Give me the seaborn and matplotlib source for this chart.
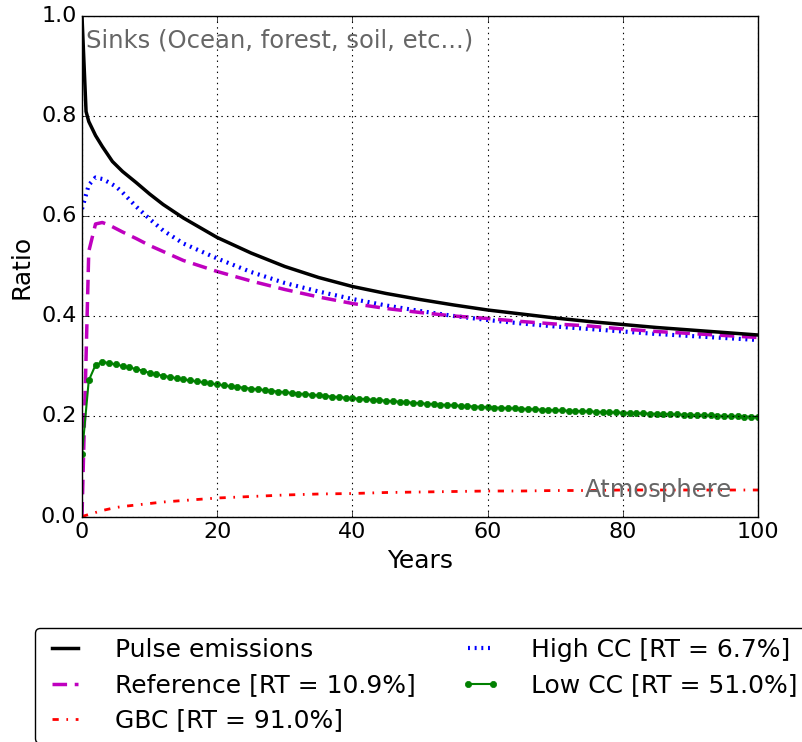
import matplotlib
matplotlib.use("Agg")
import matplotlib.pyplot as plt
import seaborn as sns

# pulse response (black)
pulse_years = [0, 0.6, 1, 2, 3, 4.5, 6, 8, 10, 12, 15, 20, 25, 30, 35, 40, 45, 50,
               55, 60, 65, 70, 75, 80, 85, 90, 95, 100]
pulse = [1.0, 0.81, 0.79, 0.762, 0.74, 0.71, 0.69, 0.668, 0.645, 0.624, 0.597,
         0.558, 0.527, 0.500, 0.478, 0.460, 0.446, 0.434, 0.423, 0.413, 0.405,
         0.397, 0.390, 0.384, 0.378, 0.373, 0.368, 0.363]

# scenarios
years = [0, 1, 2, 3, 4, 5, 6, 8, 10, 12, 15, 20, 25, 30, 35, 40, 45, 50, 55, 60,
         65, 70, 75, 80, 85, 90, 95, 100]
reference = [0.0, 0.53, 0.585, 0.588, 0.583, 0.576, 0.569, 0.556, 0.542, 0.53,
             0.512, 0.490, 0.471, 0.454, 0.439, 0.426, 0.416, 0.408, 0.401,
             0.396, 0.390, 0.385, 0.381, 0.375, 0.370, 0.366, 0.362, 0.358]
high_cc = [0.615, 0.663, 0.678, 0.675, 0.668, 0.66, 0.648, 0.62, 0.595, 0.572,
           0.546, 0.516, 0.489, 0.467, 0.450, 0.435, 0.422, 0.411, 0.401, 0.393,
           0.386, 0.380, 0.375, 0.370, 0.365, 0.361, 0.357, 0.353]
gbc = [0.0, 0.004, 0.008, 0.012, 0.015, 0.018, 0.020, 0.023, 0.026, 0.029, 0.032,
       0.037, 0.040, 0.043, 0.045, 0.046, 0.048, 0.049, 0.050, 0.051, 0.051,
       0.052, 0.052, 0.053, 0.053, 0.053, 0.053, 0.053]

# low CC, one value per year (0..100)
low_years = list(range(101))
low_cc = [
    0.125, 0.272, 0.303, 0.309, 0.307, 0.304, 0.301, 0.298, 0.295, 0.2915,
    0.287, 0.284, 0.2815, 0.279, 0.2765, 0.274, 0.272, 0.270, 0.268, 0.266,
    0.264, 0.2623, 0.2606, 0.259, 0.2574, 0.2558, 0.2543, 0.2528, 0.2513, 0.2499,
    0.2485, 0.2472, 0.2459, 0.2446, 0.2434, 0.2422, 0.241, 0.2398, 0.2387, 0.2376,
    0.2365, 0.2355, 0.2345, 0.2335, 0.2325, 0.2315, 0.2305, 0.2295, 0.2285, 0.2275,
    0.2265, 0.2256, 0.2247, 0.2238, 0.223, 0.2222, 0.2214, 0.2206, 0.2199, 0.2192,
    0.2185, 0.2179, 0.2173, 0.2167, 0.2161, 0.2155, 0.2149, 0.2143, 0.2137, 0.2131,
    0.2125, 0.212, 0.2115, 0.211, 0.2105, 0.21, 0.2095, 0.209, 0.2085, 0.208,
    0.2075, 0.2071, 0.2066, 0.2062, 0.2058, 0.2053, 0.2049, 0.2045, 0.2041, 0.2036,
    0.2032, 0.2028, 0.2024, 0.202, 0.2015, 0.2011, 0.2007, 0.2003, 0.1999, 0.1995,
    0.1991,
]

plt.style.use("classic")
plt.rcParams["font.family"] = ["DejaVu Sans"]
plt.rcParams["figure.facecolor"] = "white"
plt.rcParams["savefig.facecolor"] = "white"

fig = plt.figure(figsize=(8.03, 7.42), dpi=100)
ax = fig.add_axes([82 / 803, 0.3039, 676 / 803, 0.6739])

# dash lengths in points (classic style: dashes not scaled by linewidth)
sns.lineplot(x=years, y=high_cc, ax=ax, color="blue", lw=3,
             linestyle=(0, (1.4, 3.4)), label="High CC [RT = 6.7%]", legend=False)
sns.lineplot(x=years, y=reference, ax=ax, color="m", lw=2.5,
             linestyle=(0, (10.5, 5.5)), label="Reference [RT = 10.9%]", legend=False)
sns.lineplot(x=low_years, y=low_cc, ax=ax, color="green", lw=1.5, marker="o",
             markersize=4.5, markeredgecolor="green", markeredgewidth=0.5,
             label="Low CC [RT = 51.0%]", legend=False)
sns.lineplot(x=years, y=gbc, ax=ax, color="red", lw=2,
             linestyle=(0, (4.5, 5.5, 1.2, 5.5)), label="GBC [RT = 91.0%]", legend=False)
sns.lineplot(x=pulse_years, y=pulse, ax=ax, color="black", lw=2.5,
             label="Pulse emissions", legend=False)

ax.set_xlim(0, 100)
ax.set_ylim(0, 1.0)
ax.grid(True, linestyle=":", color="black", linewidth=0.8)
ax.set_xlabel("Years", fontsize=18)
ax.set_ylabel("Ratio", fontsize=18)
ax.tick_params(labelsize=16)

ax.text(0.6, 0.937, "Sinks (Ocean, forest, soil, etc...)", fontsize=17.5,
        color="0.4", ha="left", va="baseline")
ax.text(74.4, 0.04, "Atmosphere", fontsize=17.5, color="0.4",
        ha="left", va="baseline")

handles, labels = ax.get_legend_handles_labels()
order = ["Pulse emissions", "Reference [RT = 10.9%]", "GBC [RT = 91.0%]",
         "High CC [RT = 6.7%]", "Low CC [RT = 51.0%]"]
hmap = dict(zip(labels, handles))
fig.legend([hmap[k] for k in order], order, loc="upper left",
           bbox_to_anchor=(35 / 803, 1 - 628 / 742), ncol=2, fontsize=18,
           handlelength=1.6, handletextpad=1.2, columnspacing=1.8,
           labelspacing=0.45, fancybox=True, borderaxespad=0)

fig.savefig("out.png", dpi=100)
